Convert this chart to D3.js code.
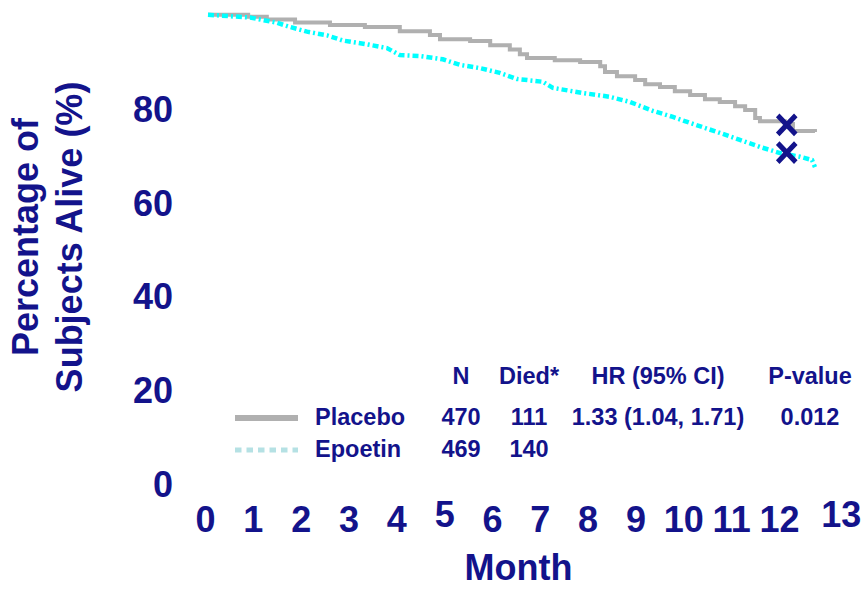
<!DOCTYPE html>
<html>
<head>
<meta charset="utf-8">
<script src="https://cdn.jsdelivr.net/npm/d3@7"></script>
<style>
  body { margin: 0; background: #fff; }
  svg { display: block; font-family: "Liberation Sans", Arial, sans-serif; font-weight: bold; }
  .axis text { fill: #13138b; font-size: 36px; }
  .tbl text { fill: #13138b; font-size: 23.5px; }
</style>
</head>
<body>
<svg class="chart"></svg>
<script>
// Kaplan-Meier curves (month, % alive)
const placeboMonth = [0, 0.84, 1.23, 1.82, 2.55, 3.28, 4.01, 4.64, 4.85, 5.48, 5.9, 6.31, 6.52, 6.67,
    7.25, 7.78, 8.2, 8.3, 8.55, 8.93, 9.14, 9.45, 9.76, 10.08, 10.39, 10.7, 11.02, 11.23, 11.44,
    11.54, 12.06, 12.23, 12.69]
const placeboPct = [100, 99.6, 99.0, 98.35, 97.8, 97.4, 96.5, 95.7, 94.8, 94.4, 93.5, 92.6, 91.6, 90.8,
    90.3, 89.9, 89.0, 87.8, 86.9, 86.1, 85.2, 84.6, 83.7, 82.9, 82.0, 81.4, 80.5, 79.7, 78.0,
    77.3, 76.7, 75.2, 75.0]

const epoetinMonth = [0, 0.88, 1.44, 1.71, 2.07, 2.49, 2.82, 3.32, 3.74, 4.01, 4.43, 4.91, 5.27, 5.69,
    6.10, 6.46, 7.0, 7.21, 7.84, 8.4, 8.82, 9.3, 9.72, 10.14, 10.7, 11.12, 11.54, 11.96, 12.38,
    12.63, 12.69]
const epoetinPct = [100, 99.4, 98.3, 97.4, 96.4, 95.6, 94.5, 93.7, 92.9, 91.4, 91.2, 90.5, 89.3, 88.6,
    87.6, 86.3, 85.7, 84.4, 83.3, 82.5, 81.4, 79.5, 78.2, 76.7, 74.8, 73.3, 71.8, 70.5, 69.7,
    69.0, 67.5]

// the two "X" marks near the end of the curves
const markMonth = [12.1, 12.1]
const markPct = [76.5, 70.6]

const monthTicks = [0, 1, 2, 3, 4, 5, 6, 7, 8, 9, 10, 11, 12, 13]
const pctTicks = [0, 20, 40, 60, 80]

const groups = ["Placebo", "Epoetin"]
const tableHead = ["N", "Died*", "HR (95% CI)", "P-value"]
const placeboRow = ["470", "111", "1.33 (1.04, 1.71)", "0.012"]
const epoetinRow = ["469", "140", "", ""]

const navy = "#13138b"
const width = 862, height = 589

const svg = d3.select(".chart")
    .attr("width", width)
    .attr("height", height)

const x = d3.scaleLinear()
    .domain([0, 13])
    .range([208, 208 + 13 * 47.83])

const y = d3.scaleLinear()
    .domain([0, 100])
    .range([483.5, 483.5 - 100 * 4.6875])

// y axis labels only
const yAxis = svg.append("g")
    .attr("class", "axis")
    .attr("transform", "translate(173,0)")
    .call(d3.axisLeft(y).tickValues(pctTicks).tickSize(0).tickPadding(0))
yAxis.select(".domain").remove()
yAxis.selectAll("text").attr("fill", navy).attr("dy", "0.36em")

// x axis labels (5 and 13 sit a bit higher in the original)
const xAxis = svg.append("g")
    .attr("class", "axis")
    .attr("transform", "translate(-3,506)")
    .call(d3.axisBottom(x).tickValues(monthTicks).tickFormat(d3.format("d")).tickSize(0).tickPadding(0))
xAxis.select(".domain").remove()
xAxis.selectAll("text").attr("fill", navy)
    .attr("y", d => (d === 5 || d === 13) ? -5 : 0)
    .attr("x", d => d === 13 ? 14 : 0)

svg.append("text")
    .text("Month")
    .attr("x", 518.5)
    .attr("y", 580)
    .attr("text-anchor", "middle")
    .attr("fill", navy)
    .attr("font-size", 36)

svg.append("text")
    .text("Percentage of")
    .attr("transform", "translate(38,237) rotate(-90)")
    .attr("text-anchor", "middle")
    .attr("fill", navy)
    .attr("font-size", 36)
svg.append("text")
    .text("Subjects Alive (%)")
    .attr("transform", "translate(82,237) rotate(-90)")
    .attr("text-anchor", "middle")
    .attr("fill", navy)
    .attr("font-size", 36)

// curves
const placebo = placeboMonth.map((m, i) => ({m: m, p: placeboPct[i]}))
const epoetin = epoetinMonth.map((m, i) => ({m: m, p: epoetinPct[i]}))

const stepLine = d3.line()
    .x(d => x(d.m))
    .y(d => y(d.p))
    .curve(d3.curveStepAfter)

const smoothLine = d3.line()
    .x(d => x(d.m))
    .y(d => y(d.p))

svg.append("path")
    .datum(placebo)
    .attr("d", stepLine)
    .attr("fill", "none")
    .attr("stroke", "#b0b0b0")
    .attr("stroke-width", 4)

svg.append("path")
    .datum(epoetin)
    .attr("d", smoothLine)
    .attr("fill", "none")
    .attr("stroke", "#00ffff")
    .attr("stroke-width", 4.5)
    .attr("stroke-dasharray", "6,3,2,3")

// X marks drawn as symbols
svg.selectAll(".mark")
    .data(markMonth)
    .join("path")
    .attr("class", "mark")
    .attr("d", d3.symbol(d3.symbolX, 215))
    .attr("transform", (d, i) => `translate(${x(d)},${y(markPct[i])}) scale(1,1.05)`)
    .attr("fill", "none")
    .attr("stroke", navy)
    .attr("stroke-width", 5)

// legend + summary table
const tbl = svg.append("g").attr("class", "tbl")
const colX = [461, 529, 658, 810]
const rowY = [425, 457]

tbl.selectAll(".head")
    .data(tableHead)
    .join("text")
    .attr("class", "head")
    .text(d => d)
    .attr("x", (d, i) => colX[i])
    .attr("y", 384)
    .attr("text-anchor", "middle")

const rows = [placeboRow, epoetinRow]
rows.forEach((row, r) => {
    tbl.append("text")
        .text(groups[r])
        .attr("x", 315)
        .attr("y", rowY[r])
    tbl.selectAll(".cell" + r)
        .data(row)
        .join("text")
        .attr("class", "cell" + r)
        .text(d => d)
        .attr("x", (d, i) => colX[i])
        .attr("y", rowY[r])
        .attr("text-anchor", "middle")
})

tbl.append("line")
    .attr("x1", 235).attr("x2", 298)
    .attr("y1", 418).attr("y2", 418)
    .attr("stroke", "#b0b0b0")
    .attr("stroke-width", 6)

tbl.append("line")
    .attr("x1", 235).attr("x2", 298)
    .attr("y1", 450).attr("y2", 450)
    .attr("stroke", "#b5e1e4")
    .attr("stroke-width", 5)
    .attr("stroke-dasharray", "6.5,5")
</script>
</body>
</html>
